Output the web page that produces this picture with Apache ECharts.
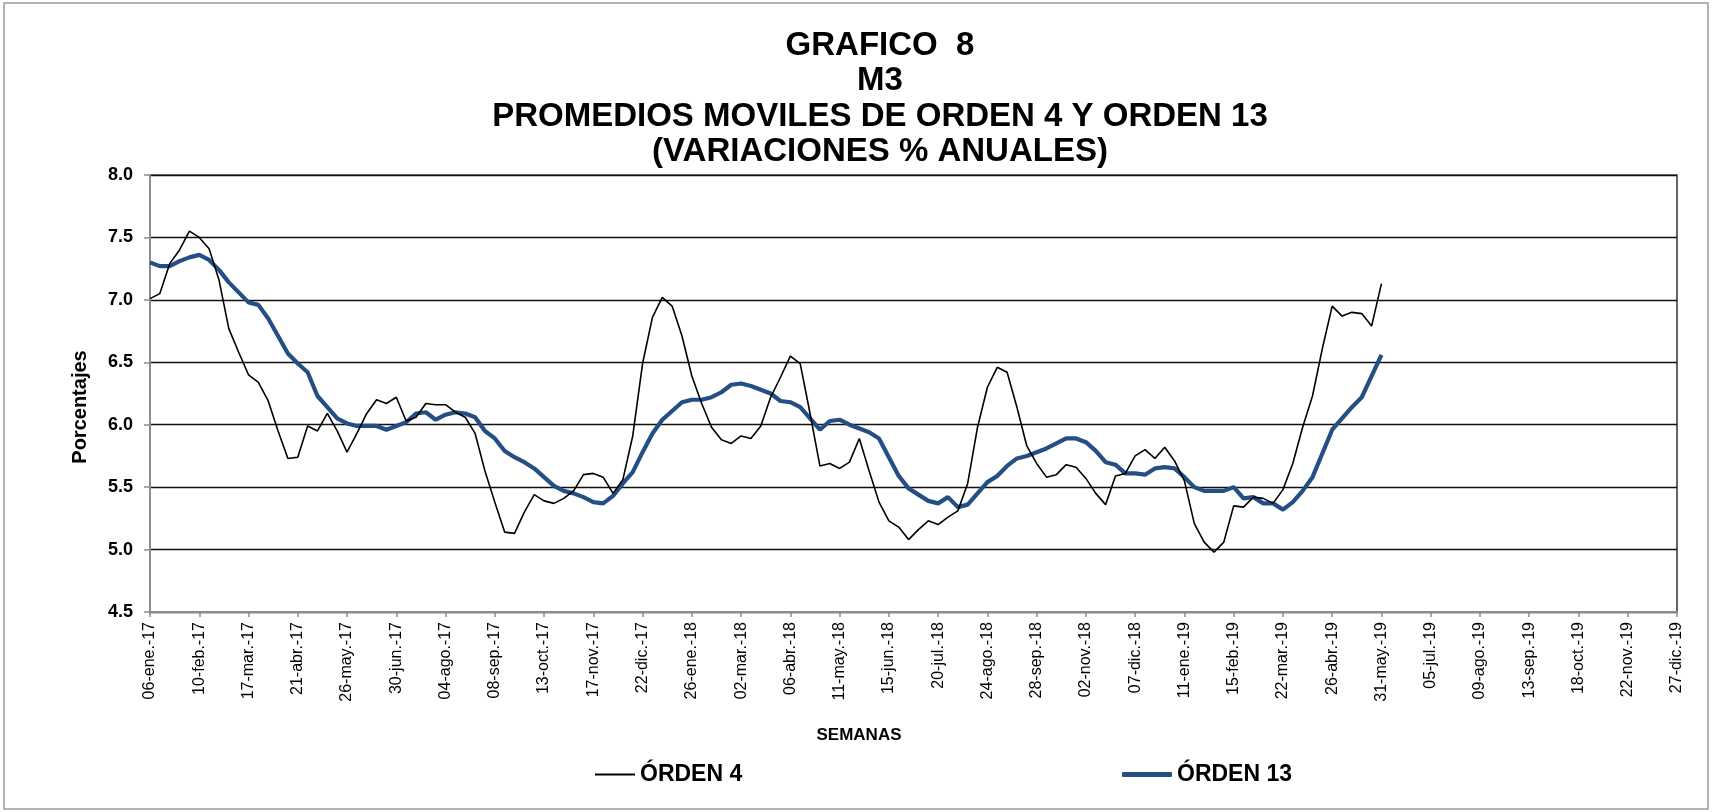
<!DOCTYPE html>
<html>
<head>
<meta charset="utf-8">
<title>Grafico 8 - M3</title>
<script src="https://cdn.jsdelivr.net/npm/echarts@6/dist/echarts.min.js"></script>
<style>
  html, body { margin: 0; padding: 0; background: #fff; }
  #chart { width: 1714px; height: 812px; }
</style>
</head>
<body>
<div id="chart"></div>
<script>
// weekly axis: first friday of 2017, 156 weeks (to 27-dic-19)
const firstWeek = [2017, 0, 6];
const weekCount = 156;
const monthNames = ["ene", "feb", "mar", "abr", "may", "jun", "jul", "ago", "sep", "oct", "nov", "dic"];

const yTicks = [4.5, 5.0, 5.5, 6.0, 6.5, 7.0, 7.5, 8.0];

const orden4 = [
  7.01, 7.05, 7.29, 7.40, 7.55, 7.50, 7.41, 7.16, 6.77, 6.58,
  6.40, 6.34, 6.19, 5.95, 5.73, 5.74, 5.99, 5.95, 6.09, 5.95,
  5.78, 5.93, 6.09, 6.20, 6.17, 6.22, 6.03, 6.06, 6.17, 6.16,
  6.16, 6.10, 6.06, 5.93, 5.63, 5.38, 5.14, 5.13, 5.30, 5.44,
  5.39, 5.37, 5.41, 5.47, 5.60, 5.61, 5.58, 5.45, 5.56, 5.91,
  6.49, 6.86, 7.02, 6.95, 6.71, 6.39, 6.17, 5.98, 5.88, 5.85,
  5.91, 5.89, 5.99, 6.22, 6.38, 6.55, 6.49, 6.09, 5.67, 5.69,
  5.65, 5.70, 5.89, 5.63, 5.38, 5.23, 5.18, 5.08, 5.16, 5.23,
  5.20, 5.26, 5.31, 5.53, 5.98, 6.30, 6.46, 6.42, 6.14, 5.83,
  5.69, 5.58, 5.60, 5.68, 5.66, 5.57, 5.45, 5.36, 5.59, 5.61,
  5.75, 5.80, 5.73, 5.82, 5.71, 5.55, 5.21, 5.06, 4.98, 5.06,
  5.35, 5.34, 5.42, 5.41, 5.37, 5.48, 5.69, 5.98, 6.23, 6.61,
  6.95, 6.87, 6.90, 6.89, 6.79, 7.13
];

const orden13 = [
  7.30, 7.27, 7.27, 7.31, 7.34, 7.36, 7.32, 7.24, 7.14, 7.06,
  6.98, 6.96, 6.85, 6.71, 6.57, 6.49, 6.42, 6.23, 6.14, 6.05,
  6.01, 5.99, 5.99, 5.99, 5.96, 5.99, 6.02, 6.09, 6.10, 6.04,
  6.08, 6.10, 6.09, 6.06, 5.95, 5.89, 5.79, 5.74, 5.70, 5.65,
  5.58, 5.51, 5.47, 5.45, 5.42, 5.38, 5.37, 5.43, 5.53, 5.62,
  5.78, 5.93, 6.04, 6.11, 6.18, 6.20, 6.20, 6.22, 6.26, 6.32,
  6.33, 6.31, 6.28, 6.25, 6.19, 6.18, 6.14, 6.05, 5.96, 6.03,
  6.04, 6.00, 5.97, 5.94, 5.89, 5.74, 5.59, 5.49, 5.44, 5.39,
  5.37, 5.42, 5.34, 5.36, 5.45, 5.54, 5.59, 5.67, 5.73, 5.75,
  5.78, 5.81, 5.85, 5.89, 5.89, 5.86, 5.79, 5.70, 5.68, 5.61,
  5.61, 5.60, 5.65, 5.66, 5.65, 5.58, 5.50, 5.47, 5.47, 5.47,
  5.50, 5.41, 5.42, 5.37, 5.37, 5.32, 5.38, 5.47, 5.58, 5.77,
  5.96, 6.05, 6.14, 6.22, 6.39, 6.56
];

const weeks = [];
for (let i = 0; i < weekCount; i++) {
  const d = new Date(Date.UTC(firstWeek[0], firstWeek[1], firstWeek[2] + 7 * i));
  const dd = String(d.getUTCDate()).padStart(2, "0");
  const yy = String(d.getUTCFullYear()).slice(2);
  weeks.push(dd + "-" + monthNames[d.getUTCMonth()] + ".-" + yy);
}

const font = "'Liberation Sans', Arial, sans-serif";
const chart = echarts.init(document.getElementById("chart"));

const legendText = { fontFamily: font, fontWeight: "bold", fontSize: 23, color: "#000" };

const option = {
  backgroundColor: "#fff",
  animation: false,
  title: {
    text: "GRAFICO  8\nM3\nPROMEDIOS MOVILES DE ORDEN 4 Y ORDEN 13\n(VARIACIONES % ANUALES)",
    left: 875,
    top: 23,
    textAlign: "center",
    textStyle: {
      fontFamily: font,
      fontWeight: "bold",
      fontSize: 33,
      lineHeight: 35.5,
      color: "#000",
    },
  },
  legend: [
    {
      data: ["ÓRDEN 4"],
      left: 590,
      top: 758,
      icon: "rect",
      itemWidth: 40,
      itemHeight: 2,
      textStyle: legendText,
    },
    {
      data: ["ÓRDEN 13"],
      left: 1117,
      top: 758,
      icon: "roundRect",
      itemWidth: 50,
      itemHeight: 5,
      textStyle: legendText,
    },
  ],
  grid: {
    left: 150,
    top: 175,
    width: 1527,
    height: 437,
    show: true,
    borderColor: "#000",
    borderWidth: 1.2,
  },
  xAxis: {
    type: "category",
    boundaryGap: false,
    data: weeks,
    axisLine: { lineStyle: { color: "#8c8c8c", width: 2 } },
    axisTick: { interval: 4, length: 5, lineStyle: { color: "#8c8c8c", width: 1.5 } },
    axisLabel: {
      interval: 4,
      rotate: 90,
      margin: 10,
      fontFamily: font,
      fontSize: 16,
      color: "#000",
    },
    splitLine: { show: false },
  },
  yAxis: {
    type: "value",
    min: yTicks[0],
    max: yTicks[yTicks.length - 1],
    interval: 0.5,
    axisLine: { show: true, lineStyle: { color: "#8c8c8c", width: 2 } },
    axisTick: { show: true, length: 6, lineStyle: { color: "#8c8c8c", width: 1.5 } },
    axisLabel: {
      margin: 17,
      fontFamily: font,
      fontWeight: "bold",
      fontSize: 18,
      color: "#000",
      formatter: (v) => v.toFixed(1),
    },
    splitLine: { lineStyle: { color: "#111", width: 1.3 } },
  },
  graphic: [
    {
      type: "rect",
      shape: { x: 4, y: 3, width: 1704, height: 806 },
      style: { fill: null, stroke: "#9a9a9a", lineWidth: 1.5 },
      silent: true,
    },
    {
      type: "text",
      x: 80,
      y: 407,
      rotation: Math.PI / 2,
      style: {
        text: "Porcentajes",
        font: "bold 20px " + font,
        fill: "#000",
        align: "center",
        verticalAlign: "middle",
      },
    },
    {
      type: "text",
      x: 859,
      y: 735,
      style: {
        text: "SEMANAS",
        font: "bold 17px " + font,
        fill: "#000",
        align: "center",
        verticalAlign: "middle",
      },
    },
  ],
  series: [
    {
      name: "ÓRDEN 4",
      type: "line",
      data: orden4,
      showSymbol: false,
      symbol: "none",
      color: "#000",
      lineStyle: { color: "#000", width: 1.6 },
      z: 3,
    },
    {
      name: "ÓRDEN 13",
      type: "line",
      data: orden13,
      showSymbol: false,
      symbol: "none",
      color: "#244f84",
      lineStyle: { color: "#244f84", width: 4.2 },
      z: 2,
    },
  ],
};

chart.setOption(option);
</script>
</body>
</html>
